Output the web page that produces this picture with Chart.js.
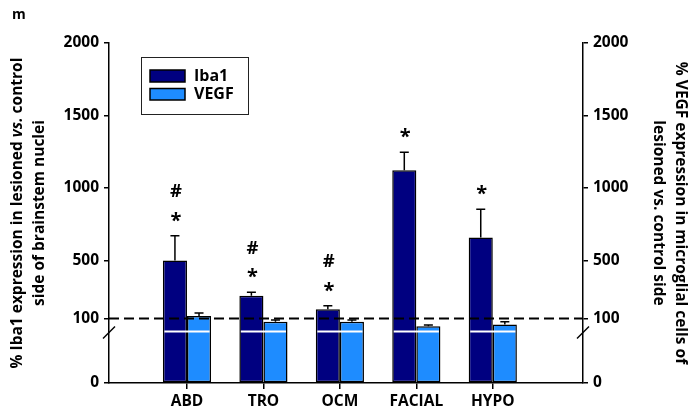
<!DOCTYPE html>
<html>
<head>
<meta charset="utf-8">
<script src="https://cdn.jsdelivr.net/npm/chart.js@4/dist/chart.umd.min.js"></script>
<style>
  html, body { margin: 0; padding: 0; background: #fff; }
  #wrap { width: 689px; height: 414px; }
</style>
</head>
<body>
<div id="wrap"><canvas id="chart" width="689" height="414"></canvas></div>
<script>
// Brainstem nuclei
const categories = ['ABD', 'TRO', 'OCM', 'FACIAL', 'HYPO'];
// % Iba1 expression, lesioned vs. control side (mean, SEM)
const iba1Values = [500, 257, 165, 1122, 659];
const iba1Errors = [171, 25, 23, 125, 194];
// % VEGF expression in microglia, lesioned vs. control side (mean, SEM)
const vegfValues = [118, 95, 95, 88, 91];
const vegfErrors = [20, 3, 3, 2, 4];
// Significance marks above the Iba1 bars
const significance = ['*#', '*#', '*#', '*', '*'];
// Value axis ticks (axis is broken between 0 and 100)
const yTickValues = [0, 100, 500, 1000, 1500, 2000];
const referenceLevel = 100;
const breakMarkValue = 80;

const FONT = "'Open Sans', 'DejaVu Sans', sans-serif";
const BREAK_AT = 100;
const STRETCH = 4.44;

// Linear scale whose 0-100 segment is stretched (axis break)
class BrokenLinearScale extends Chart.LinearScale {
  static id = 'brokenLinear';
  static defaults = Chart.LinearScale.defaults;
  warp(v) { return v <= BREAK_AT ? v * STRETCH : BREAK_AT * STRETCH + (v - BREAK_AT); }
  unwarp(u) { const b = BREAK_AT * STRETCH; return u <= b ? u / STRETCH : BREAK_AT + (u - b); }
  getPixelForValue(value) {
    if (value === null || isNaN(value)) return NaN;
    const a = this.warp(this.min), b = this.warp(this.max);
    return this.getPixelForDecimal((this.warp(value) - a) / (b - a));
  }
  getValueForPixel(pixel) {
    const a = this.warp(this.min), b = this.warp(this.max);
    return this.unwarp(a + this.getDecimalForPixel(pixel) * (b - a));
  }
}
Chart.register(BrokenLinearScale);

const bold = (size, style) => ({ family: FONT, size, weight: 'bold', style: style || 'normal' });
const fontStr = (size, style) => `${style || 'normal'} bold ${size}px ${FONT}`;

const valueAxis = (position, width) => ({
  type: 'brokenLinear',
  position,
  min: 0,
  max: 2000,
  afterBuildTicks: s => { s.ticks = yTickValues.map(v => ({ value: v })); },
  afterFit: s => { s.width = width; },
  grid: { drawOnChartArea: false, drawTicks: true, tickLength: 5, color: '#000', lineWidth: 1.5 },
  border: { display: true, color: '#000', width: 1.5 },
  ticks: { autoSkip: false, padding: 5, color: '#000', font: bold(15.5), callback: v => String(v) }
});

// Error bars, axis-break marks, reference line and significance marks
const decorations = {
  id: 'decorations',
  afterDatasetsDraw(chart) {
    const ctx = chart.ctx;
    const area = chart.chartArea;
    const errs = [iba1Errors, vegfErrors];
    const yScale = chart.scales.y;

    // error bars (upper whisker)
    chart.data.datasets.forEach((ds, di) => {
      const meta = chart.getDatasetMeta(di);
      const ys = chart.scales[meta.yAxisID];
      meta.data.forEach((bar, i) => {
        const top = ys.getPixelForValue(ds.data[i].y + errs[di][i]);
        ctx.save();
        ctx.strokeStyle = '#000';
        ctx.lineWidth = 1.5;
        ctx.beginPath();
        ctx.moveTo(bar.x, bar.y);
        ctx.lineTo(bar.x, top);
        ctx.moveTo(bar.x - 4.5, top);
        ctx.lineTo(bar.x + 4.5, top);
        ctx.stroke();
        ctx.restore();
      });
    });

    // white break line through each pair of bars
    const yBreak = yScale.getPixelForValue(breakMarkValue);
    const m0 = chart.getDatasetMeta(0), m1 = chart.getDatasetMeta(1);
    ctx.save();
    ctx.strokeStyle = '#fff';
    ctx.lineWidth = 2;
    m0.data.forEach((bar, i) => {
      const other = m1.data[i];
      const left = Math.min(bar.x - bar.width / 2, other.x - other.width / 2) + 1.5;
      const right = Math.max(bar.x + bar.width / 2, other.x + other.width / 2) - 1.5;
      ctx.beginPath();
      ctx.moveTo(left, yBreak);
      ctx.lineTo(right, yBreak);
      ctx.stroke();
    });
    ctx.restore();

    // dashed reference line at 100 %
    const yRef = yScale.getPixelForValue(referenceLevel);
    ctx.save();
    ctx.strokeStyle = '#000';
    ctx.lineWidth = 2;
    ctx.setLineDash([10, 5]);
    ctx.beginPath();
    ctx.moveTo(area.left, yRef);
    ctx.lineTo(area.right, yRef);
    ctx.stroke();
    ctx.restore();

    // significance marks
    const drawCentered = (text, x, cy, font) => {
      ctx.font = font;
      const m = ctx.measureText(text);
      const base = cy + (m.actualBoundingBoxAscent - m.actualBoundingBoxDescent) / 2;
      ctx.fillText(text, x, base);
    };
    ctx.save();
    ctx.fillStyle = '#000';
    ctx.textAlign = 'center';
    ctx.textBaseline = 'alphabetic';
    m0.data.forEach((bar, i) => {
      const top = yScale.getPixelForValue(iba1Values[i] + iba1Errors[i]);
      const marks = significance[i];
      if (marks.includes('*')) drawCentered('*', bar.x + 1, top - 19, fontStr(20));
      if (marks.includes('#')) drawCentered('#', bar.x + 1, top - 45, fontStr(18.5));
    });
    ctx.restore();
  },
  afterDraw(chart) {
    const ctx = chart.ctx;
    const area = chart.chartArea;
    const yBreak = chart.scales.y.getPixelForValue(breakMarkValue) + 1;

    // diagonal break marks on both value axes
    ctx.save();
    ctx.strokeStyle = '#000';
    ctx.lineWidth = 1.5;
    [area.left, area.right].forEach(x => {
      ctx.beginPath();
      ctx.moveTo(x - 6, yBreak + 6);
      ctx.lineTo(x + 6, yBreak - 6);
      ctx.stroke();
    });
    ctx.restore();

    // legend box
    ctx.save();
    ctx.strokeStyle = '#222';
    ctx.lineWidth = 1;
    ctx.strokeRect(141.5, 57.5, 107, 57);
    const rows = [{ y: 70, h: 12 }, { y: 88.5, h: 11.5 }];
    chart.data.datasets.forEach((ds, i) => {
      const r = rows[i];
      ctx.fillStyle = ds.backgroundColor;
      ctx.fillRect(150, r.y, 35, r.h);
      ctx.strokeStyle = '#000';
      ctx.lineWidth = 1.5;
      ctx.strokeRect(150, r.y, 35, r.h);
      ctx.fillStyle = '#000';
      ctx.font = fontStr(16);
      ctx.textAlign = 'left';
      ctx.textBaseline = 'middle';
      ctx.fillText(ds.label, 194, r.y + r.h / 2 + 0.5);
    });
    ctx.restore();

    // axis titles
    const drawLine = (segments, cx, cy, angle) => {
      ctx.save();
      ctx.translate(cx, cy);
      ctx.rotate(angle);
      ctx.fillStyle = '#000';
      ctx.textBaseline = 'middle';
      ctx.textAlign = 'left';
      let total = 0;
      segments.forEach(s => { ctx.font = s.font; total += ctx.measureText(s.text).width; });
      let x = -total / 2;
      segments.forEach(s => { ctx.font = s.font; ctx.fillText(s.text, x, 0); x += ctx.measureText(s.text).width; });
      ctx.restore();
    };
    const tf = fontStr(15.5), ti = fontStr(15.5, 'italic');
    const midY = (area.top + area.bottom) / 2;
    drawLine([{ text: '% Iba1 expression in lesioned ', font: tf }, { text: 'vs.', font: ti }, { text: ' control', font: tf }], 18, midY, -Math.PI / 2);
    drawLine([{ text: 'side of brainstem nuclei', font: tf }], 40, midY, -Math.PI / 2);
    drawLine([{ text: '% VEGF expression in microglial cells of', font: tf }], 680, midY, Math.PI / 2);
    drawLine([{ text: 'lesioned vs. control side', font: tf }], 658, midY, Math.PI / 2);

    // panel letter
    ctx.save();
    ctx.fillStyle = '#000';
    ctx.font = fontStr(14);
    ctx.textAlign = 'left';
    ctx.textBaseline = 'middle';
    ctx.fillText('m', 12, 15);
    ctx.restore();
  }
};

new Chart(document.getElementById('chart'), {
  type: 'bar',
  data: {
    datasets: [
      {
        label: 'Iba1',
        data: iba1Values.map((v, i) => ({ x: i, y: v })),
        backgroundColor: '#000080',
        borderColor: '#000',
        borderWidth: 1.5,
        borderSkipped: false,
        yAxisID: 'y',
        categoryPercentage: 0.63,
        barPercentage: 1
      },
      {
        label: 'VEGF',
        data: vegfValues.map((v, i) => ({ x: i, y: v })),
        backgroundColor: '#1E8CFF',
        borderColor: '#000',
        borderWidth: 1.5,
        borderSkipped: false,
        yAxisID: 'y2',
        categoryPercentage: 0.63,
        barPercentage: 1
      }
    ]
  },
  options: {
    responsive: false,
    animation: false,
    devicePixelRatio: 1,
    layout: { padding: { top: 43, left: 0, right: 0, bottom: 0 } },
    plugins: { legend: { display: false }, tooltip: { enabled: false } },
    scales: {
      x: {
        type: 'linear',
        min: -1.02,
        max: 5.18,
        offset: false,
        afterBuildTicks: s => { s.ticks = categories.map((_, i) => ({ value: i })); },
        afterFit: s => { s.height = 31; },
        grid: { offset: false, drawOnChartArea: false, drawTicks: true, tickLength: 6, color: '#000', lineWidth: 1.5 },
        border: { display: true, color: '#000', width: 1.5 },
        ticks: { autoSkip: false, maxRotation: 0, padding: 3, color: '#000', font: bold(15.5), callback: v => categories[v] ?? '' }
      },
      y: valueAxis('left', 109),
      y2: valueAxis('right', 106)
    }
  },
  plugins: [decorations]
});
</script>
</body>
</html>
